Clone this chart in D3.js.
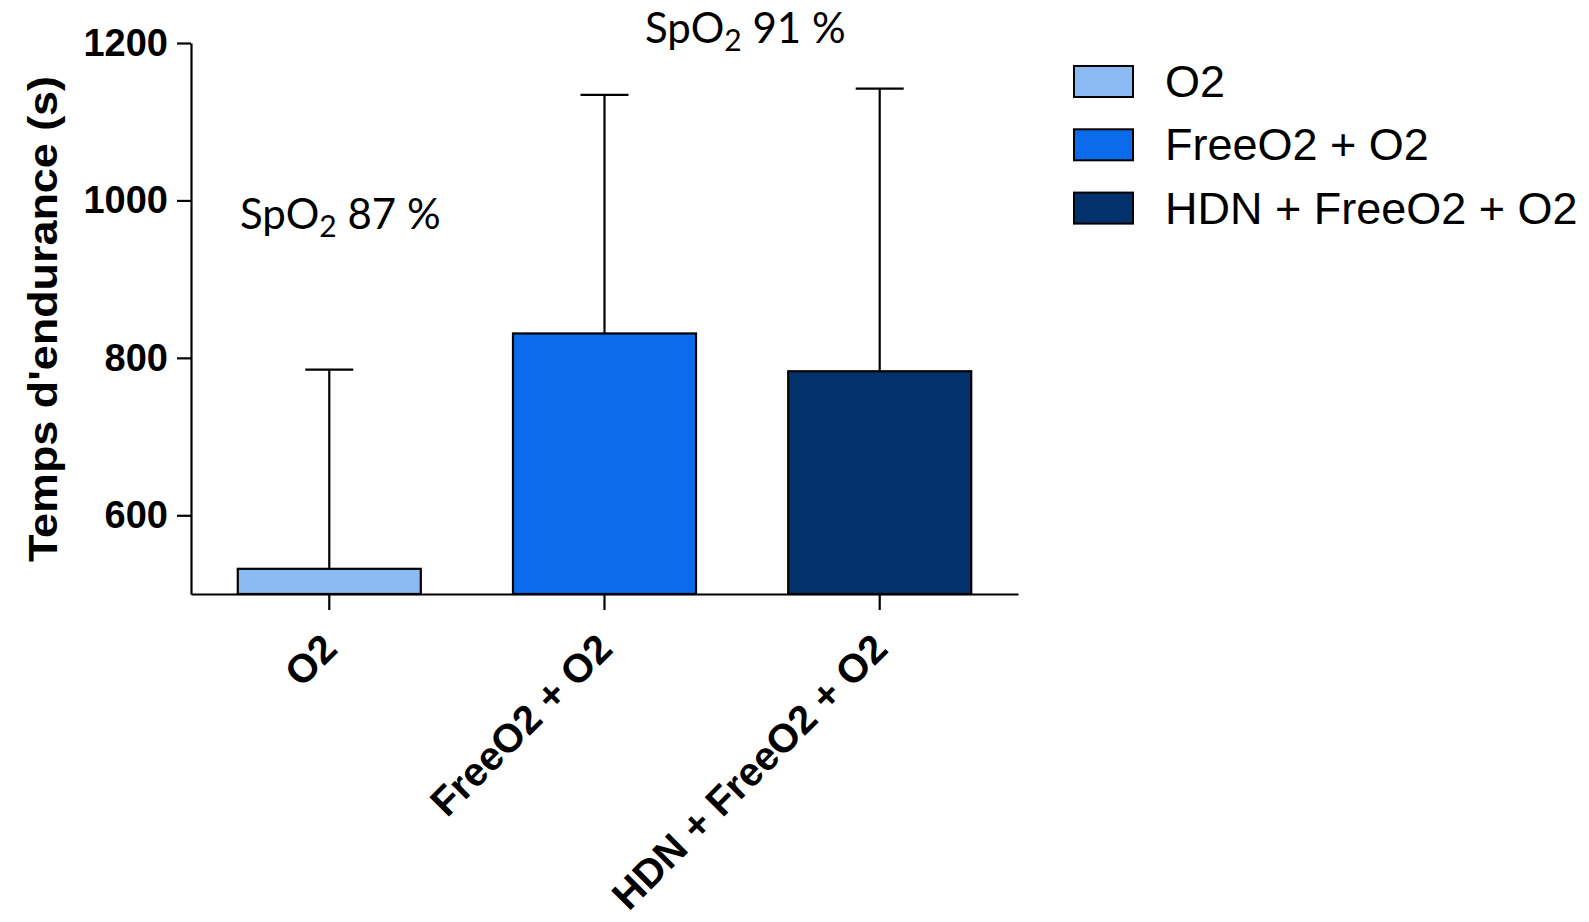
<!DOCTYPE html>
<html>
<head>
<meta charset="utf-8">
<script src="https://cdn.jsdelivr.net/npm/d3@7"></script>
<style>
  body { margin: 0; background: #fff; }
  .axis text { font-family: "Liberation Sans", Arial, sans-serif; font-weight: bold; fill: #000; }
  .axis path, .axis line { stroke: #000; stroke-width: 2.2px; }
  .note { font-family: Lato, "Open Sans", sans-serif; fill: #000; }
  .legend text { font-family: "Liberation Sans", Arial, sans-serif; fill: #000; }
</style>
</head>
<body>
<div class="chart"></div>
<script>
// Endurance time by oxygen delivery mode (mean + SD)
var groups = ["O2", "FreeO2 + O2", "HDN + FreeO2 + O2"];
var means = [532, 831, 783];
var sds = [253, 303, 359];
var colors = ["#8cbaf2", "#0a6ceb", "#03316b"];
var yTicks = [600, 800, 1000, 1200];
var notes = [
  { label: "87 %", x: 240, y: 229 },
  { label: "91 %", x: 645, y: 43 }
];

var svgWidth = 1589;
var svgHeight = 922;

var margin = {
  top: 43,
  right: 571,
  bottom: 328,
  left: 191
};

var width = svgWidth - margin.left - margin.right;
var height = svgHeight - margin.top - margin.bottom;

var svg = d3.select(".chart")
  .append("svg")
  .attr("width", svgWidth)
  .attr("height", svgHeight);

var chartGroup = svg.append("g")
  .attr("transform", `translate(${margin.left}, ${margin.top})`);

// scales
var xBandScale = d3.scaleBand()
  .domain(groups)
  .range([0, width])
  .paddingInner(0.335)
  .paddingOuter(0.17);

var yLinearScale = d3.scaleLinear()
  .domain([500, 1200])
  .range([height, 0]);

var bottomAxis = d3.axisBottom(xBandScale).tickSize(16).tickSizeOuter(0);
var leftAxis = d3.axisLeft(yLinearScale)
  .tickValues(yTicks)
  .tickFormat(d3.format("d"))
  .tickSize(14)
  .tickSizeOuter(0)
  .tickPadding(9);

// error bars (upper only)
var errGroup = chartGroup.selectAll(".err")
  .data(groups)
  .enter()
  .append("g")
  .attr("class", "err")
  .attr("stroke", "#000")
  .attr("stroke-width", 2.2);

errGroup.append("line")
  .attr("x1", d => xBandScale(d) + xBandScale.bandwidth() / 2)
  .attr("x2", d => xBandScale(d) + xBandScale.bandwidth() / 2)
  .attr("y1", (d, i) => yLinearScale(means[i]))
  .attr("y2", (d, i) => yLinearScale(means[i] + sds[i]));

errGroup.append("line")
  .attr("x1", d => xBandScale(d) + xBandScale.bandwidth() / 2 - 24)
  .attr("x2", d => xBandScale(d) + xBandScale.bandwidth() / 2 + 24)
  .attr("y1", (d, i) => yLinearScale(means[i] + sds[i]))
  .attr("y2", (d, i) => yLinearScale(means[i] + sds[i]));

// bars
chartGroup.selectAll(".bar")
  .data(groups)
  .enter()
  .append("rect")
  .attr("class", "bar")
  .attr("x", d => xBandScale(d))
  .attr("y", (d, i) => yLinearScale(means[i]))
  .attr("width", xBandScale.bandwidth())
  .attr("height", (d, i) => height - yLinearScale(means[i]))
  .attr("fill", (d, i) => colors[i])
  .attr("stroke", "#000")
  .attr("stroke-width", 2.2);

// axes
chartGroup.append("g")
  .attr("class", "axis")
  .call(leftAxis)
  .selectAll("text")
  .style("font-size", "38px");

var xAxisGroup = chartGroup.append("g")
  .attr("class", "axis")
  .attr("transform", `translate(0, ${height})`)
  .call(bottomAxis);

xAxisGroup.selectAll("text")
  .style("font-size", "40px")
  .attr("x", 0)
  .attr("y", 0)
  .attr("dy", 0)
  .attr("text-anchor", "end")
  .attr("transform", "translate(10, 57) rotate(-45)");

// y axis title
svg.append("text")
  .attr("transform", "translate(57, 319) rotate(-90)")
  .attr("text-anchor", "middle")
  .attr("textLength", 486)
  .attr("lengthAdjust", "spacingAndGlyphs")
  .style("font-family", "'Liberation Sans', Arial, sans-serif")
  .style("font-weight", "bold")
  .style("font-size", "41px")
  .text("Temps d'endurance (s)");

// SpO2 notes
notes.forEach(function(n) {
  var t = svg.append("text")
    .attr("class", "note")
    .attr("x", n.x)
    .attr("y", n.y)
    .style("font-size", "42px");
  t.append("tspan").text("SpO");
  t.append("tspan").attr("dy", 8).style("font-size", "30px").text("2");
  t.append("tspan").attr("dy", -8).text(" " + n.label);
});

// legend
var legend = svg.append("g")
  .attr("class", "legend")
  .attr("transform", "translate(1074, 66)");

var legendRow = legend.selectAll("g")
  .data(groups)
  .enter()
  .append("g")
  .attr("transform", (d, i) => `translate(0, ${i * 63.3})`);

legendRow.append("rect")
  .attr("width", 59)
  .attr("height", 31)
  .attr("fill", (d, i) => colors[i])
  .attr("stroke", "#000")
  .attr("stroke-width", 2);

legendRow.append("text")
  .attr("x", 91)
  .attr("y", 31)
  .style("font-size", "45px")
  .text(d => d);
</script>
</body>
</html>
